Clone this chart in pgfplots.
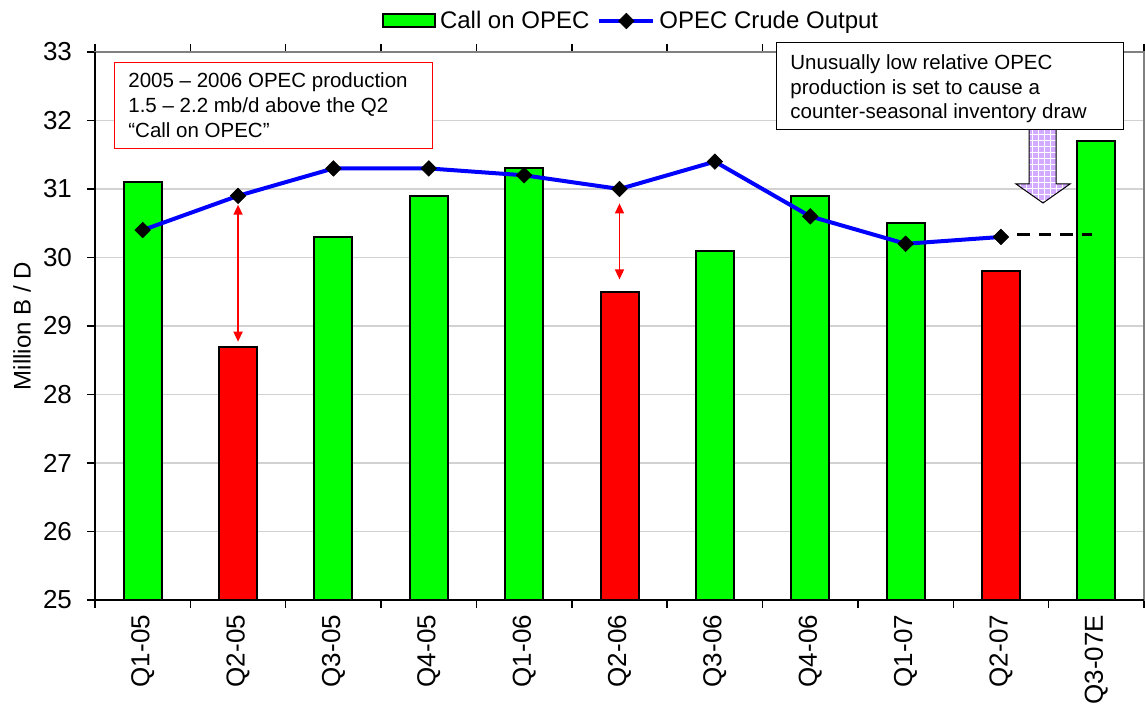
\documentclass[border=0pt]{standalone}
\usepackage{pgfplots}
\pgfplotsset{compat=1.18}
\usepackage{fontspec}
\setmainfont{Liberation Sans}
\usetikzlibrary{patterns,arrows.meta}
\definecolor{barg}{RGB}{0,255,0}
\definecolor{barr}{RGB}{255,0,0}
\definecolor{lineb}{RGB}{0,0,255}
\definecolor{lav}{RGB}{210,170,255}
\pgfplotsset{
  barleg/.style={legend image code/.code={\draw[##1] (0pt,-3.25pt) rectangle (26pt,3.25pt);}},
  lineleg/.style={legend image code/.code={\draw[mark repeat=2, mark phase=2, ##1] plot coordinates {(0pt,0pt) (13.5pt,0pt) (27pt,0pt)};}},
}

\begin{document}
\begin{tikzpicture}
\path[use as bounding box] (-47.5pt,-55pt) rectangle (525pt,300pt);
\begin{axis}[
  scale only axis, width=524.5pt, height=274pt,
  xmin=-0.5, xmax=10.5, ymin=25, ymax=33,
  ytick={25,...,33},
  xtick={0,...,10},
  xticklabels={Q1-05,Q2-05,Q3-05,Q4-05,Q1-06,Q2-06,Q3-06,Q4-06,Q1-07,Q2-07,Q3-07E},
  minor xtick={-0.5,0.5,...,10.5},
  major x tick style={draw=none},
  minor x tick style={black, line width=0.75pt},
  y tick style={black, line width=0.75pt},
  tick align=outside,
  major tick length=4pt, minor tick length=4pt,
  xticklabel style={rotate=90, anchor=east, font=\fontsize{13}{15}\selectfont},
  yticklabel style={font=\fontsize{13}{15}\selectfont, xshift=-4pt},
  /pgf/number format/assume math mode=true,
  ymajorgrids, grid style={gray!35, line width=0.6pt},
  axis line style={gray, line width=0.6pt},
  ylabel={Million B / D},
  every axis y label/.style={at={(axis description cs:-0.0696,0.5)}, rotate=90, anchor=center, font=\fontsize{12}{14}\selectfont},
  clip mode=individual,
  legend columns=2,
  legend style={at={(0.512,1.0566)}, anchor=center, draw=none, fill=none,
    font=\fontsize{12}{14}\selectfont, inner sep=0pt,
    /tikz/every even column/.append style={column sep=2pt}},
]
\addplot[ybar, bar width=19pt, bar shift=0pt, fill=barg, draw=black, line width=1pt, barleg]
  coordinates {(0,31.1) (2,30.3) (3,30.9) (4,31.3) (6,30.1) (7,30.9) (8,30.5) (10,31.7)};
\addlegendentry{Call on OPEC}
\addplot[ybar, bar width=19pt, bar shift=0pt, fill=barr, draw=black, line width=1pt, forget plot]
  coordinates {(1,28.7) (5,29.5) (9,29.8)};
\addplot[black, line width=1.5pt, dash pattern=on 6.3pt off 4.5pt, forget plot]
  coordinates {(9.17,30.33) (9.955,30.33)};
\addplot[lineb, line width=2pt, mark=square*, mark size=2.75pt,
  mark options={rotate=45, fill=black, draw=black, solid, line width=0.3pt}, lineleg]
  coordinates {(0,30.4) (1,30.9) (2,31.3) (3,31.3) (4,31.2) (5,31.0) (6,31.4) (7,30.6) (8,30.2) (9,30.3)};
\addlegendentry{OPEC Crude Output}
\draw[barr, line width=0.75pt, {Triangle[length=5pt,width=4.5pt]}-{Triangle[length=5pt,width=4.5pt]}]
  (axis cs:1,30.77) -- (axis cs:1,28.77);
\draw[barr, line width=0.75pt, {Triangle[length=5pt,width=4.5pt]}-{Triangle[length=5pt,width=4.5pt]}]
  (axis cs:5,30.79) -- (axis cs:5,29.68);
\end{axis}
\draw[black, line width=0.9pt] (0pt,274pt) -- (0pt,0pt) -- (524.5pt,0pt);
% left annotation
\draw[barr, line width=0.5pt, fill=white] (9.5pt,268.5pt) rectangle (168.5pt,225.5pt);
\begin{scope}[every node/.style={anchor=base west, inner sep=0pt, font=\fontsize{10.25}{12.5}\selectfont}]
\node at (16.5pt,256pt) {2005 – 2006 OPEC production};
\node at (16.5pt,243.5pt) {1.5 – 2.2 mb/d above the Q2};
\node at (16.5pt,231pt) {“Call on OPEC”};
\end{scope}
% hollow arrow
\path[preaction={fill=lav}, pattern=grid, pattern color=white]
  (467pt,235pt) -- (467pt,208pt) -- (460.5pt,208pt) -- (474pt,198.5pt) -- (487.5pt,208pt) -- (480.5pt,208pt) -- (480.5pt,235pt) -- cycle;
\draw[black, line width=0.5pt]
  (467pt,235pt) -- (467pt,208pt) -- (460.5pt,208pt) -- (474pt,198.5pt) -- (487.5pt,208pt) -- (480.5pt,208pt) -- (480.5pt,235pt);
% right annotation
\draw[black, line width=0.5pt, fill=white] (340.5pt,278.5pt) rectangle (514pt,235pt);
\begin{scope}[every node/.style={anchor=base west, inner sep=0pt, font=\fontsize{10.25}{12.5}\selectfont}]
\node at (347.5pt,265pt) {Unusually low relative OPEC};
\node at (347.5pt,252.75pt) {production is set to cause a};
\node at (347.5pt,240.75pt) {counter-seasonal inventory draw};
\end{scope}
\end{tikzpicture}
\end{document}
